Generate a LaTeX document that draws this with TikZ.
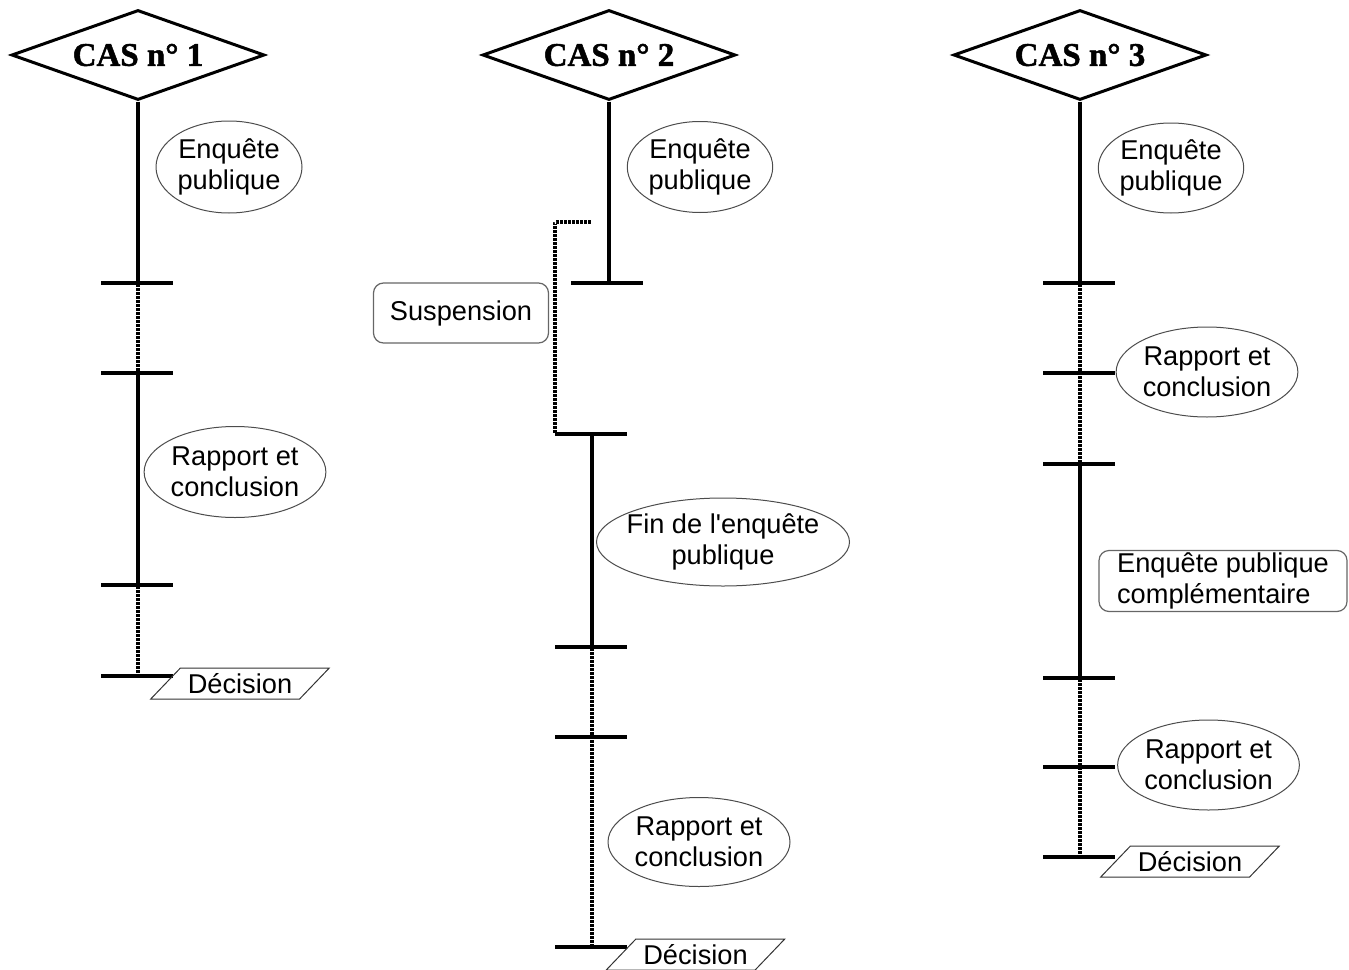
\documentclass[tikz,border=0pt]{standalone}
\usepackage{fontspec}
\setsansfont{Liberation Sans}[Ligatures=TeXOff]
\newfontfamily\casfont{Liberation Serif}[BoldFeatures={FakeBold=1.5}]
\usetikzlibrary{shapes.geometric}
\tikzset{
  cas/.style={draw, line width=1.5pt, diamond, shape aspect=2.8, minimum width=126.5pt, minimum height=45pt, inner sep=1pt, font=\casfont\bfseries\fontsize{16.5}{18}\selectfont},
  txt/.style={font=\sffamily\fontsize{13.6}{15.5}\selectfont, align=center, inner sep=0pt},
  bulle/.style={txt, draw=black!70, line width=0.5pt, ellipse},
  boite/.style={txt, draw=black!60, line width=0.6pt, rounded corners=5pt},
  decision/.style={txt, draw=black!80, line width=0.5pt, trapezium, trapezium left angle=38, trapezium right angle=142, trapezium stretches, minimum width=90pt, minimum height=15.5pt},
  plein/.style={line width=2pt},
  pointille/.style={line width=1.8pt, postaction={draw=white, line width=1.8pt, dash pattern=on 0.5pt off 1.5pt}},
  tick/.style={line width=2pt}
}
\begin{document}
\begin{tikzpicture}[x=0.5pt,y=-0.5pt]
\useasboundingbox (0,0) rectangle (1349,969);
\node[cas] (cas1) at (138,55) {CAS n° 1};
\node[cas] (cas2) at (609,55) {CAS n° 2};
\node[cas] (cas3) at (1080,55) {CAS n° 3};
\coordinate (a1) at (138,283);
\coordinate (b1) at (138,373);
\coordinate (c1) at (138,585);
\coordinate (d1) at (138,676);
\coordinate (a2) at (609,283);
\coordinate (s2) at (592,222);
\coordinate (b2) at (592,434);
\coordinate (c2) at (592,647);
\coordinate (d2) at (592,737);
\coordinate (e2) at (592,947);
\coordinate (a3) at (1080,283);
\coordinate (b3) at (1080,373);
\coordinate (c3) at (1080,464);
\coordinate (d3) at (1080,678);
\coordinate (e3) at (1080,767);
\coordinate (f3) at (1080,857);
\draw[plein] (cas1.south) -- (a1);
\draw[pointille] (a1) -- (b1);
\draw[plein] (b1) -- (c1);
\draw[pointille] (c1) -- (d1);
\draw[plein] (cas2.south) -- (a2);
\draw[pointille] (s2) -| ([xshift=-18.5pt]b2);
\draw[plein] (b2) -- (c2);
\draw[pointille] (c2) -- (d2) -- (e2);
\draw[plein] (cas3.south) -- (a3);
\draw[pointille] (a3) -- (b3) -- (c3);
\draw[plein] (c3) -- (d3);
\draw[pointille] (d3) -- (e3) -- (f3);
\foreach \p in {a1,b1,c1,d1,b2,c2,d2,e2,a3,b3,c3,d3,e3,f3}
  \draw[tick] ([xshift=-18.5pt]\p) -- ([xshift=17.5pt]\p);
\draw[tick] ([xshift=-19pt]a2) -- ([xshift=17pt]a2);
\node[bulle, minimum width=73pt, minimum height=46pt] (enq1) at (229,167) {Enquête\\publique};
\node[bulle, minimum width=90.5pt, minimum height=45.5pt] (rap1) at (235,472) {Rapport et\\conclusion};
\node[decision] (dec1) at (240,683.5) {Décision};
\node[bulle, minimum width=72pt, minimum height=45.5pt] (enq2) at (700,167) {Enquête\\publique};
\node[boite, minimum width=87.5pt, minimum height=30pt] (susp) at (461,313) {Suspension};
\node[bulle, inner xsep=-3.5pt, minimum width=126.5pt, minimum height=44pt] (fin) at (723,542) {Fin de l'enquête\\publique};
\node[bulle, minimum width=91pt, minimum height=44.5pt] (rap2) at (699,842) {Rapport et\\conclusion};
\node[decision] (dec2) at (695.5,954.5) {Décision};
\node[bulle, minimum width=72pt, minimum height=45pt] (enq3) at (1171,168) {Enquête\\publique};
\node[bulle, minimum width=90pt, minimum height=45pt] (rap3) at (1207,372) {Rapport et\\conclusion};
\node[boite, align=left, minimum width=124pt, minimum height=30.5pt] (compl) at (1223,581) {Enquête publique\\complémentaire};
\node[bulle, minimum width=90.5pt, minimum height=45pt] (rap4) at (1208.5,765) {Rapport et\\conclusion};
\node[decision] (dec3) at (1190,861.5) {Décision};
\end{tikzpicture}
\end{document}
